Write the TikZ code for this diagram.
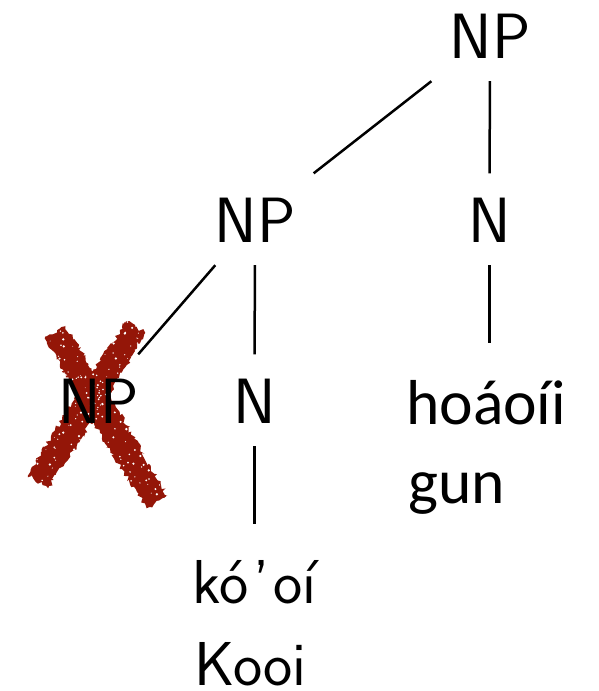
\documentclass[tikz,border=0pt]{standalone}
\usepackage{fontspec}
\newfontfamily\carlito{Carlito}
\usetikzlibrary{decorations.pathmorphing}
\definecolor{xred}{RGB}{148,22,8}
\newcommand\catsize{\sffamily\fontsize{64}{70}\selectfont}
\newcommand\glosssize{\carlito\fontsize{63.5}{70}\selectfont}
\newcommand\lmwordsize{\sffamily\fontsize{62}{70}\selectfont}
\begin{document}
\begin{tikzpicture}[x=1pt,y=-1pt,
  cat/.style={font=\catsize, inner xsep=24pt, inner ysep=0pt,
              text height=68.5pt, text depth=23pt, anchor=base},
  word/.style={inner sep=0pt, anchor=base west},
  branch/.style={line width=2.5pt},
  brush/.style={fill=xred, decorate,
                decoration={random steps, segment length=2.5pt, amplitude=2.2pt}}]
\useasboundingbox (0,0) rectangle (599,691);

% the crossed-out constituent: two rough brush strokes
\pgfmathsetseed{11}
\fill[brush] (44.7,338.2) -- (94.0,424.2) -- (146.7,508.2) -- (167.3,495.8)
  -- (118.0,409.8) -- (65.3,325.8) -- cycle;
\fill[brush] (145.3,332.9) -- (98.8,412.0) -- (48.1,488.4) -- (27.9,475.6)
  -- (75.2,397.0) -- (126.7,321.1) -- cycle;
\foreach \i in {1,...,80}{
  \pgfmathsetmacro\pa{rnd}
  \pgfmathsetmacro\pb{rand}
  \pgfmathsetmacro\pr{0.4+0.9*rnd}
  \fill[white] (55+102*\pa-12.9*\pb, 332+170*\pa+7.7*\pb) circle (\pr);
  \pgfmathsetmacro\pa{rnd}
  \pgfmathsetmacro\pb{rand}
  \pgfmathsetmacro\pr{0.4+0.9*rnd}
  \fill[white] (136-98*\pa+12.7*\pb, 327+155*\pa+8*\pb) circle (\pr);
}

% categories
\node[cat] (np0) at (490,58) {NP};
\node[cat] (np1) at (255,242) {NP};
\node[cat] (n1) at (489.5,242) {N};
\node[cat] (np2) at (98.5,423) {NP};
\node[cat] (n2) at (254.5,423) {N};

% words and glosses
\node[word, font=\glosssize, text height=81pt] (w1) at (406,424) {hoáoíi};
\node[word, font=\glosssize] (g1) at (408,503) {gun};
\node[word, font=\lmwordsize, text height=79pt] (w2) at (192,603) {kó\kern5pt’\kern4pt oí};
\node[word, font=\lmwordsize] (g2) at (194,685) {Kooi};

% branches
\draw[branch] (np0) -- (np1);
\draw[branch] (np0) -- (n1);
\draw[branch] (np1) -- (np2);
\draw[branch] (np1) -- (n2);
\draw[branch] (n1.south) -- (n1.south |- w1.north);
\draw[branch] (n2.south) -- (n2.south |- w2.north);
\end{tikzpicture}
\end{document}
